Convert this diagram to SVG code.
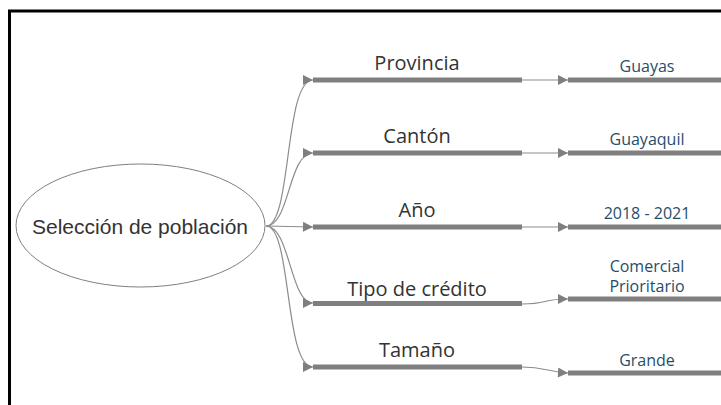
<svg xmlns="http://www.w3.org/2000/svg" width="721" height="405" viewBox="0 0 721 405">
<defs>
<style>
.bar{stroke:#7f7f7f;stroke-width:5;}
.con{fill:none;stroke:#8c8c8c;stroke-width:1.2;}
.l1{font-family:"Open Sans","Noto Sans",sans-serif;font-size:20px;fill:#333;text-anchor:middle;}
.l2{font-family:"Open Sans","Noto Sans",sans-serif;font-size:16px;fill:#1f4e6b;text-anchor:middle;}
</style>
<marker id="ar" viewBox="0 0 10 10" refX="10" refY="5" markerWidth="11" markerHeight="10" markerUnits="userSpaceOnUse" orient="auto"><path d="M0,0 L10,5 L0,10 Z" fill="#7f7f7f"/></marker>
</defs>
<rect x="9.5" y="11" width="720" height="400" fill="#fff" stroke="#000" stroke-width="3"/>
<g id="connectors">
<path class="con" d="M266,226 C292,226 284,80 313,80" marker-end="url(#ar)"/>
<path class="con" d="M266,226 C290,226 288,153 313,153" marker-end="url(#ar)"/>
<path class="con" d="M266,226 L313,227" marker-end="url(#ar)"/>
<path class="con" d="M266,226 C290,226 290,303 313,303" marker-end="url(#ar)"/>
<path class="con" d="M266,226 C292,226 284,367 313,367" marker-end="url(#ar)"/>
<path class="con" d="M522,80 L568,80" marker-end="url(#ar)"/>
<path class="con" d="M522,153 L568,153" marker-end="url(#ar)"/>
<path class="con" d="M522,227 L568,227" marker-end="url(#ar)"/>
<path class="con" d="M522,304 C550,304 540,299 568,299" marker-end="url(#ar)"/>
<path class="con" d="M522,367 C545,367 548,372 568,373" marker-end="url(#ar)"/>
</g>
<g id="root">
<ellipse cx="140.5" cy="225.5" rx="124.5" ry="61.5" fill="#fff" stroke="#7f7f7f" stroke-width="1"/>
<text x="140" y="234" font-family="Liberation Sans,Arial,sans-serif" font-size="21" fill="#333" text-anchor="middle">Selección de población</text>
</g>
<g id="provincia"><line class="bar" x1="313" y1="80" x2="522" y2="80"/><text class="l1" x="417" y="70">Provincia</text></g>
<g id="canton"><line class="bar" x1="313" y1="153" x2="522" y2="153"/><text class="l1" x="417" y="143">Cantón</text></g>
<g id="anio"><line class="bar" x1="313" y1="227" x2="522" y2="227"/><text class="l1" x="417" y="217">Año</text></g>
<g id="tipo"><line class="bar" x1="313" y1="303.5" x2="522" y2="303.5"/><text class="l1" x="417" y="296">Tipo de crédito</text></g>
<g id="tamano"><line class="bar" x1="313" y1="367" x2="522" y2="367"/><text class="l1" x="417" y="357">Tamaño</text></g>
<g id="guayas"><line class="bar" x1="568" y1="80" x2="725" y2="80"/><text class="l2" x="647" y="72">Guayas</text></g>
<g id="guayaquil"><line class="bar" x1="568" y1="153" x2="725" y2="153"/><text class="l2" x="647" y="145">Guayaquil</text></g>
<g id="anios"><line class="bar" x1="568" y1="227" x2="725" y2="227"/><text class="l2" x="647" y="219">2018 - 2021</text></g>
<g id="comercial"><line class="bar" x1="568" y1="299" x2="725" y2="299"/><text class="l2" x="647" y="272">Comercial</text><text class="l2" x="647" y="292">Prioritario</text></g>
<g id="grande"><line class="bar" x1="568" y1="373" x2="725" y2="373"/><text class="l2" x="647" y="366">Grande</text></g>
</svg>
